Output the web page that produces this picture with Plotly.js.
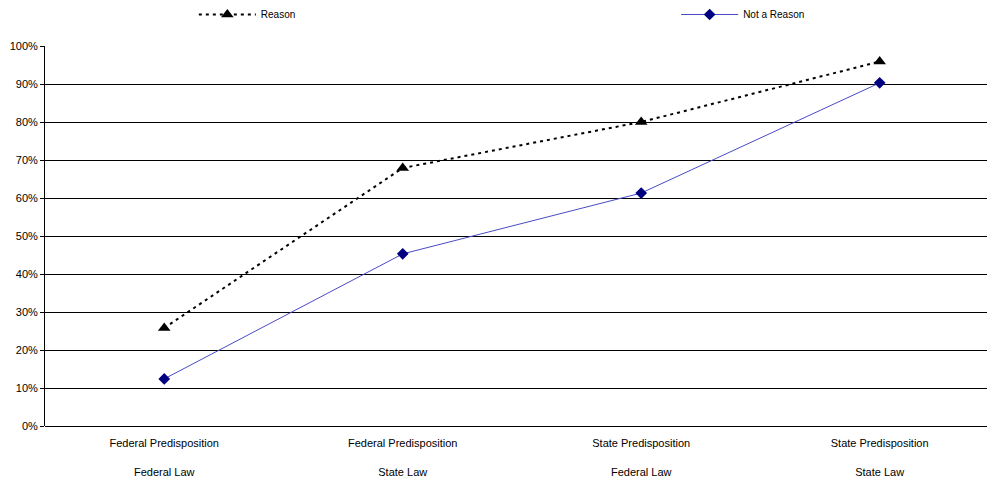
<!DOCTYPE html>
<html>
<head>
<meta charset="utf-8">
<script src="https://cdn.plot.ly/plotly-3.0.1.min.js"></script>
<style>html,body{margin:0;padding:0;background:#fff;}#chart{width:987px;height:483px;}</style>
</head>
<body>
<div id="chart"></div>
<script>
const categories = [
  "Federal Predisposition<br><br>Federal Law",
  "Federal Predisposition<br><br>State Law",
  "State Predisposition<br><br>Federal Law",
  "State Predisposition<br><br>State Law"
];
const reasonValues = [0.258, 0.679, 0.800, 0.959];
const notReasonValues = [0.124, 0.453, 0.613, 0.903];
const seriesNames = ["Reason", "Not a Reason"];
const yTickVals = [0, 0.1, 0.2, 0.3, 0.4, 0.5, 0.6, 0.7, 0.8, 0.9, 1.0];

const traces = [
  {
    x: categories, y: reasonValues, name: seriesNames[0], type: "scatter", mode: "lines+markers",
    line: {color: "#000000", width: 2, dash: "3px,4px"},
    marker: {symbol: "triangle-up", size: 11, color: "#000000"},
    legend: "legend"
  },
  {
    x: categories, y: notReasonValues, name: seriesNames[1], type: "scatter", mode: "lines+markers",
    line: {color: "#4a4ac8", width: 1},
    marker: {symbol: "diamond", size: 9, color: "#000080"},
    legend: "legend2"
  }
];

const legendCommon = {
  orientation: "h", y: 1.045, yanchor: "bottom", xanchor: "left",
  itemwidth: 57,
  font: {size: 10, color: "#000"}, bgcolor: "rgba(0,0,0,0)"
};

const layout = {
  width: 987, height: 483,
  margin: {l: 45, r: 0, t: 46, b: 57},
  paper_bgcolor: "#ffffff", plot_bgcolor: "#ffffff",
  font: {family: "Liberation Sans, Arial, sans-serif", size: 11, color: "#000"},
  showlegend: true,
  legend: Object.assign({}, legendCommon, {x: 0.158}),
  legend2: Object.assign({}, legendCommon, {x: 0.670}),
  xaxis: {
    type: "category", range: [-0.5, 3.45],
    showgrid: false, zeroline: false, showline: false,
    ticks: "", tickfont: {size: 11, color: "#000"}, ticklabelstandoff: 9, fixedrange: true
  },
  yaxis: {
    range: [0, 1.0], tickvals: yTickVals, tickformat: ".0%",
    showgrid: true, gridcolor: "#000000", gridwidth: 1,
    zeroline: true, zerolinecolor: "#000000", zerolinewidth: 1,
    showline: true, linecolor: "#000000", linewidth: 1,
    ticks: "outside", ticklen: 4, tickcolor: "#000000",
    tickfont: {size: 11, color: "#000"}, fixedrange: true
  }
};

Plotly.newPlot("chart", traces, layout, {displayModeBar: false, staticPlot: true});
</script>
</body>
</html>
